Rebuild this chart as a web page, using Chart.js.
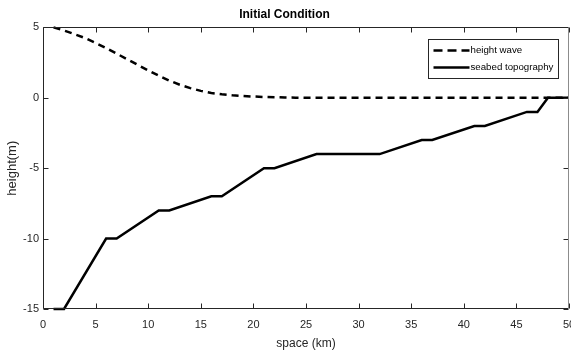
<!DOCTYPE html>
<html>
<head>
<meta charset="utf-8">
<script src="https://cdn.jsdelivr.net/npm/chart.js@4"></script>
<style>
html, body { margin: 0; padding: 0; background: #fff; }
#wrap { width: 571px; height: 351px; }
</style>
</head>
<body>
<div id="wrap"><canvas id="myChart" width="571" height="351"></canvas></div>
<script>
// data
const space = [1, 2, 3, 4, 5, 6, 7, 8, 9, 10, 11, 12, 13, 14, 15, 16, 17, 18, 19, 20,
    21, 22, 23, 24, 25, 26, 27, 28, 29, 30, 31, 32, 33, 34, 35, 36, 37, 38, 39, 40,
    41, 42, 43, 44, 45, 46, 47, 48, 49, 50];
const heightWave = [5.0, 4.78, 4.52, 4.24, 3.9, 3.53, 3.14, 2.74, 2.34, 1.95,
    1.57, 1.22, 0.93, 0.69, 0.49, 0.34, 0.25, 0.18, 0.13, 0.09,
    0.06, 0.04, 0.02, 0.01, 0, 0, 0, 0, 0, 0,
    0, 0, 0, 0, 0, 0, 0, 0, 0, 0,
    0, 0, 0, 0, 0, 0, 0, 0, 0, 0];
const seabedX = [1, 2, 6, 7, 11, 12, 16, 17, 21, 22, 26, 32, 36, 37, 41, 42, 46, 47, 48, 50];
const seabedY = [-15, -15, -10, -10, -8, -8, -7, -7, -5, -5, -4, -4, -3, -3, -2, -2, -1, -1, 0, 0];
const xTicks = [0, 5, 10, 15, 20, 25, 30, 35, 40, 45, 50];
const yTicks = [-15, -10, -5, 0, 5];

const axisColor = '#262626';
const fontFamily = "'Liberation Sans', Arial, sans-serif";

// box, inward ticks and legend drawn on top, MATLAB style
const boxPlugin = {
    id: 'boxPlugin',
    afterDraw(chart) {
        const c = chart.ctx;
        const a = chart.chartArea;
        const xs = chart.scales.x;
        const ys = chart.scales.y;
        const L = Math.round(a.left) + 0.5, R = Math.round(a.right) - 0.5;
        const T = Math.round(a.top) + 0.5, B = Math.round(a.bottom) - 0.5;
        c.save();
        c.strokeStyle = axisColor;
        c.lineWidth = 1;
        c.setLineDash([]);
        c.beginPath();
        c.moveTo(R, T); c.lineTo(L, T); c.lineTo(L, B); c.lineTo(R, B);
        xTicks.forEach(v => {
            const px = Math.round(xs.getPixelForValue(v)) + 0.5;
            c.moveTo(px, B); c.lineTo(px, B - 5);
            c.moveTo(px, T); c.lineTo(px, T + 5);
        });
        yTicks.forEach(v => {
            const py = Math.round(ys.getPixelForValue(v)) + 0.5;
            c.moveTo(L, py); c.lineTo(L + 5, py);
            c.moveTo(R, py); c.lineTo(R - 5, py);
        });
        c.stroke();
        // right edge is lighter in the reference
        c.strokeStyle = '#8c8c8c';
        c.beginPath();
        c.moveTo(R, T); c.lineTo(R, B);
        c.stroke();

        // legend
        const lx = 428.5, ly = 39.5, lw = 130, lh = 39;
        c.fillStyle = '#fff';
        c.fillRect(lx, ly, lw, lh);
        c.strokeStyle = axisColor;
        c.strokeRect(lx, ly, lw, lh);
        c.font = '9.7px ' + fontFamily;
        c.textBaseline = 'middle';
        c.fillStyle = '#000';
        chart.data.datasets.forEach((ds, i) => {
            const y = ly + 11 + i * 17;
            c.strokeStyle = ds.borderColor;
            c.lineWidth = ds.borderWidth;
            c.setLineDash(i === 0 ? [9, 5] : []);
            c.beginPath();
            c.moveTo(lx + 5, y);
            c.lineTo(lx + 41, y);
            c.stroke();
            c.fillText(ds.label, lx + 42, y);
        });
        c.restore();
    }
};

const ctx = document.getElementById('myChart').getContext('2d');
const myChart = new Chart(ctx, {
    type: 'line',
    data: {
        datasets: [{
            label: 'height wave',
            data: space.map((x, i) => ({ x: x, y: heightWave[i] })),
            borderColor: '#000',
            borderWidth: 2.5,
            borderDash: [7, 5],
            pointRadius: 0,
            fill: false,
            clip: false
        }, {
            label: 'seabed topography',
            data: seabedX.map((x, i) => ({ x: x, y: seabedY[i] })),
            borderColor: '#000',
            borderWidth: 2.5,
            pointRadius: 0,
            fill: false,
            clip: false
        }]
    },
    options: {
        responsive: false,
        animation: false,
        layout: { padding: { left: 0, right: 2, top: 0, bottom: 0 } },
        plugins: {
            legend: { display: false },
            tooltip: { enabled: false },
            title: {
                display: true,
                text: 'Initial Condition',
                color: '#000',
                font: { family: fontFamily, size: 12, weight: 'bold' },
                padding: { top: 7, bottom: 6 }
            }
        },
        scales: {
            x: {
                type: 'linear',
                min: 0,
                max: 50,
                afterBuildTicks: s => { s.ticks = xTicks.map(v => ({ value: v })); },
                afterFit: s => { s.height = 42; s.paddingLeft = 0; s.paddingRight = 0; },
                grid: { display: false, drawTicks: false },
                border: { display: false },
                ticks: { padding: 9, color: axisColor, autoSkip: false, maxRotation: 0,
                    font: { family: fontFamily, size: 11 } },
                title: { display: true, text: 'space (km)', color: axisColor, padding: 0,
                    font: { family: fontFamily, size: 12 } }
            },
            y: {
                type: 'linear',
                min: -15,
                max: 5,
                afterBuildTicks: s => { s.ticks = yTicks.map(v => ({ value: v })); },
                afterFit: s => { s.width = 43; s.paddingTop = 0; s.paddingBottom = 0; },
                grid: { display: false, drawTicks: false },
                border: { display: false },
                ticks: { padding: 4, color: axisColor, font: { family: fontFamily, size: 11 } },
                title: { display: true, text: 'height(m)', color: axisColor,
                    padding: { top: 5, bottom: 0 },
                    font: { family: fontFamily, size: 13 } }
            }
        }
    },
    plugins: [boxPlugin]
});
</script>
</body>
</html>
